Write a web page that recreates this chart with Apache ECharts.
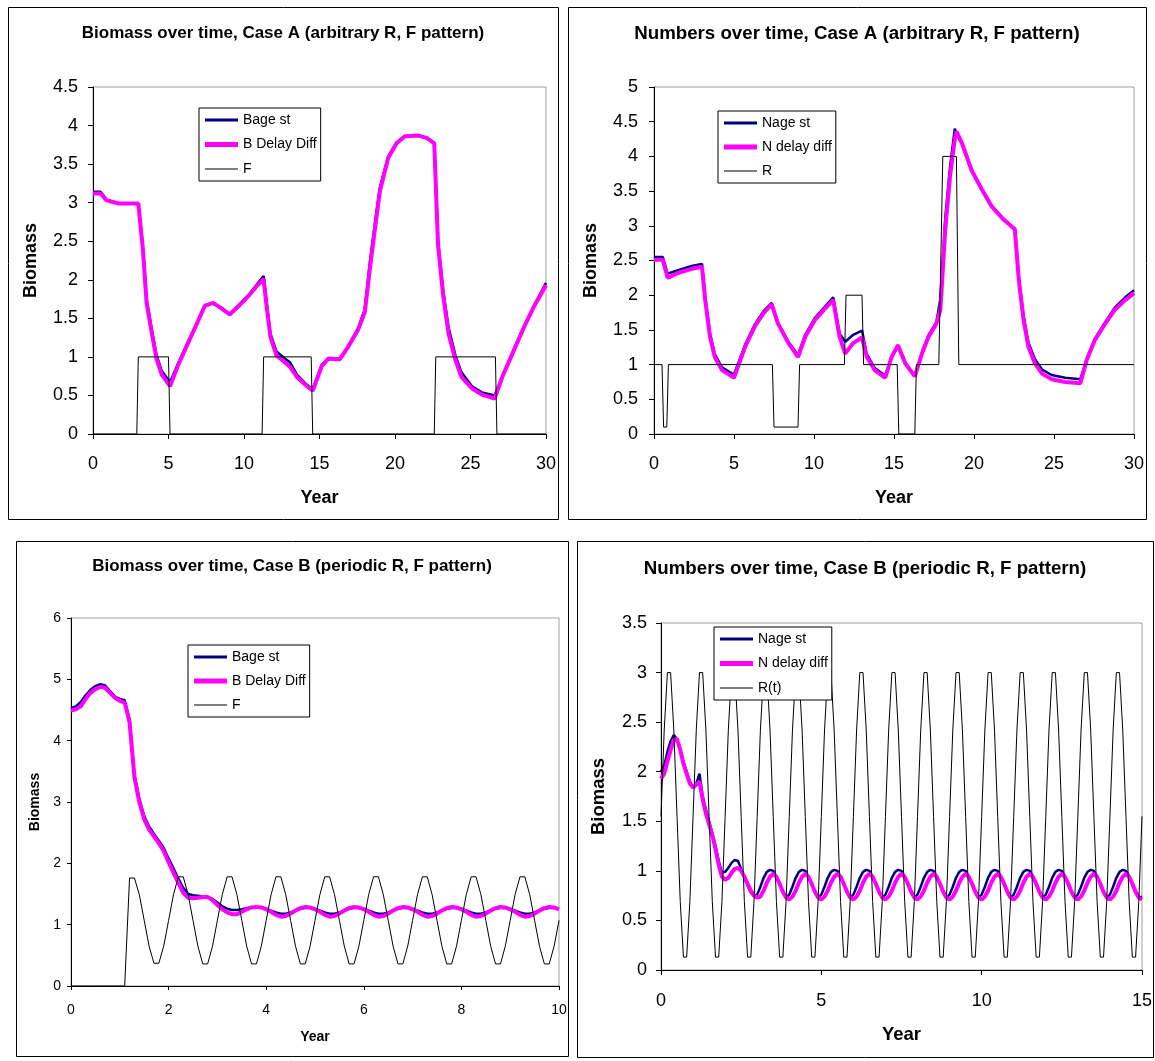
<!DOCTYPE html>
<html><head><meta charset="utf-8">
<script src="https://cdn.jsdelivr.net/npm/echarts/dist/echarts.min.js"></script>
<style>html,body{margin:0;padding:0;background:#fff}#c{width:1155px;height:1061px}</style>
</head><body><div id="c"></div>
<script>
// ---------- Panel 1: Biomass over time, Case A ----------
const years1 = [0,0.5,0.9,1.7,3.0,3.3,3.55,3.9,4.2,4.55,5.1,5.65,6.3,6.9,7.4,7.95,8.5,9.05,9.6,10.3,10.85,11.3,11.5,11.75,12.15,12.7,13.05,13.5,14.05,14.55,15.15,15.6,16.35,16.9,17.55,18.0,18.35,18.7,19.0,19.55,20.1,20.65,21.55,22.1,22.6,22.85,23.2,23.55,24.0,24.4,25.1,25.75,26.6,27.15,27.95,28.6,29.25,30];
const bAgeA = [3.14,3.14,3.04,2.99,2.99,2.45,1.75,1.35,1.03,0.82,0.67,0.92,1.2,1.45,1.67,1.70,1.64,1.55,1.66,1.8,1.94,2.05,1.7,1.3,1.07,0.98,0.93,0.77,0.66,0.58,0.9,0.97,0.97,1.14,1.37,1.62,2.25,2.78,3.2,3.6,3.78,3.86,3.87,3.84,3.77,2.5,1.85,1.38,1.02,0.8,0.62,0.54,0.5,0.77,1.13,1.42,1.68,1.96];
const bDelayA = [3.12,3.12,3.03,2.99,2.99,2.4,1.7,1.3,0.98,0.77,0.62,0.9,1.18,1.44,1.66,1.70,1.63,1.55,1.65,1.79,1.92,2.01,1.65,1.26,1.02,0.93,0.87,0.74,0.64,0.56,0.88,0.98,0.97,1.13,1.35,1.58,2.17,2.7,3.15,3.58,3.77,3.86,3.87,3.84,3.77,2.45,1.78,1.3,0.96,0.74,0.59,0.51,0.46,0.76,1.12,1.41,1.67,1.93];
const fYearsA = [0,2.9,3.0,5.0,5.1,11.2,11.3,14.45,14.55,22.6,22.7,26.65,26.75,30];
const fValsA  = [0,0,1,1,0,0,1,1,0,0,1,1,0,0];

// ---------- Panel 2: Numbers over time, Case A ----------
const years2 = [0,0.55,0.85,1.5,2.35,3.0,3.2,3.5,3.8,4.25,4.75,5.0,5.7,6.3,6.85,7.35,7.75,8.4,9.0,9.45,10.05,10.7,11.2,11.6,11.95,12.45,13.0,13.3,13.8,14.45,14.85,15.25,15.7,16.3,16.75,17.15,17.65,17.9,18.2,18.5,18.8,18.9,19.25,19.85,20.5,21.1,21.85,22.55,22.8,23.1,23.4,23.8,24.25,24.85,25.7,26.65,27.05,27.55,28.2,28.8,29.45,30];
const nAgeA = [2.55,2.55,2.31,2.36,2.42,2.45,1.98,1.45,1.15,0.96,0.89,0.86,1.29,1.58,1.77,1.89,1.60,1.33,1.14,1.43,1.67,1.84,1.97,1.45,1.33,1.43,1.49,1.15,0.95,0.84,1.12,1.28,1.03,0.83,1.17,1.42,1.61,1.95,3.10,3.85,4.40,4.32,4.18,3.80,3.53,3.29,3.10,2.96,2.26,1.70,1.32,1.08,0.93,0.85,0.81,0.79,1.09,1.37,1.61,1.82,1.97,2.07];
const nDelayA = [2.51,2.51,2.25,2.32,2.38,2.41,1.93,1.40,1.11,0.92,0.85,0.81,1.26,1.55,1.74,1.87,1.59,1.31,1.11,1.40,1.64,1.81,1.93,1.40,1.16,1.31,1.39,1.11,0.92,0.81,1.11,1.28,1.02,0.83,1.16,1.40,1.59,1.79,2.94,3.71,4.25,4.36,4.19,3.80,3.52,3.28,3.09,2.95,2.22,1.64,1.26,1.02,0.87,0.79,0.75,0.73,1.07,1.35,1.59,1.79,1.93,2.03];
const rYearsA = [0,0.5,0.6,0.8,0.9,7.4,7.5,9.0,9.1,11.9,12.0,13.0,13.1,15.2,15.3,16.3,16.4,17.8,18.05,18.9,19.05,30];
const rValsA  = [1,1,0.1,0.1,1,1,0.1,0.1,1,1,2,2,1,1,0,0,1,1,4,4,1,1];

// ---------- Panel 3: Biomass over time, Case B ----------
const years3 = [
0,0.1,0.2,0.3,0.4,0.5,0.6,0.7,0.8,0.9,
1,1.1,1.2,1.3,1.4,1.5,1.6,1.7,1.8,1.9,
2,2.1,2.2,2.3,2.4,2.5,2.6,2.7,2.8,2.9,
3,3.1,3.2,3.3,3.4,3.5,3.6,3.7,3.8,3.9,
4,4.1,4.2,4.3,4.4,4.5,4.6,4.7,4.8,4.9,
5,5.1,5.2,5.3,5.4,5.5,5.6,5.7,5.8,5.9,
6,6.1,6.2,6.3,6.4,6.5,6.6,6.7,6.8,6.9,
7,7.1,7.2,7.3,7.4,7.5,7.6,7.7,7.8,7.9,
8,8.1,8.2,8.3,8.4,8.5,8.6,8.7,8.8,8.9,
9,9.1,9.2,9.3,9.4,9.5,9.6,9.7,9.8,9.9,
10];
const bAgeB = [
4.53,4.56,4.63,4.74,4.83,4.89,4.92,4.90,4.81,4.72,
4.68,4.66,4.35,3.45,3.05,2.77,2.60,2.48,2.37,2.25,
2.08,1.92,1.75,1.60,1.50,1.48,1.47,1.46,1.45,1.42,
1.36,1.30,1.26,1.24,1.24,1.25,1.27,1.28,1.28,1.28,
1.26,1.23,1.20,1.18,1.18,1.20,1.23,1.26,1.27,1.27,
1.26,1.23,1.20,1.18,1.18,1.20,1.23,1.26,1.27,1.27,
1.26,1.23,1.20,1.18,1.18,1.20,1.23,1.26,1.27,1.27,
1.26,1.23,1.20,1.18,1.18,1.20,1.23,1.26,1.27,1.27,
1.26,1.23,1.20,1.18,1.18,1.20,1.23,1.26,1.27,1.27,
1.26,1.23,1.20,1.18,1.18,1.20,1.23,1.26,1.27,1.27,
1.26];
const bDelayB = [
4.49,4.51,4.56,4.68,4.78,4.84,4.88,4.86,4.78,4.70,
4.65,4.62,4.30,3.40,3.00,2.72,2.55,2.44,2.33,2.20,
2.02,1.85,1.68,1.52,1.44,1.43,1.44,1.45,1.45,1.40,
1.32,1.25,1.20,1.17,1.17,1.21,1.25,1.28,1.29,1.28,
1.25,1.21,1.16,1.13,1.14,1.18,1.23,1.27,1.29,1.28,
1.25,1.21,1.16,1.13,1.14,1.18,1.23,1.27,1.29,1.28,
1.25,1.21,1.16,1.13,1.14,1.18,1.23,1.27,1.29,1.28,
1.25,1.21,1.16,1.13,1.14,1.18,1.23,1.27,1.29,1.28,
1.25,1.21,1.16,1.13,1.14,1.18,1.23,1.27,1.29,1.28,
1.25,1.21,1.16,1.13,1.14,1.18,1.23,1.27,1.29,1.28,
1.25];
const fB = [
0,0,0,0,0,0,0,0,0,0,
0,0,1.76,1.76,1.49,1.07,0.65,0.37,0.37,0.65,
1.07,1.49,1.78,1.78,1.49,1.07,0.65,0.36,0.36,0.65,
1.07,1.49,1.78,1.78,1.49,1.07,0.65,0.36,0.36,0.65,
1.07,1.49,1.78,1.78,1.49,1.07,0.65,0.36,0.36,0.65,
1.07,1.49,1.78,1.78,1.49,1.07,0.65,0.36,0.36,0.65,
1.07,1.49,1.78,1.78,1.49,1.07,0.65,0.36,0.36,0.65,
1.07,1.49,1.78,1.78,1.49,1.07,0.65,0.36,0.36,0.65,
1.07,1.49,1.78,1.78,1.49,1.07,0.65,0.36,0.36,0.65,
1.07,1.49,1.78,1.78,1.49,1.07,0.65,0.36,0.36,0.65,
1.07];

// ---------- Panel 4: Numbers over time, Case B ----------
const years4 = [
0,0.1,0.2,0.3,0.4,0.5,0.6,0.7,0.8,0.9,
1,1.1,1.2,1.3,1.4,1.5,1.6,1.7,1.8,1.9,
2,2.1,2.2,2.3,2.4,2.5,2.6,2.7,2.8,2.9,
3,3.1,3.2,3.3,3.4,3.5,3.6,3.7,3.8,3.9,
4,4.1,4.2,4.3,4.4,4.5,4.6,4.7,4.8,4.9,
5,5.1,5.2,5.3,5.4,5.5,5.6,5.7,5.8,5.9,
6,6.1,6.2,6.3,6.4,6.5,6.6,6.7,6.8,6.9,
7,7.1,7.2,7.3,7.4,7.5,7.6,7.7,7.8,7.9,
8,8.1,8.2,8.3,8.4,8.5,8.6,8.7,8.8,8.9,
9,9.1,9.2,9.3,9.4,9.5,9.6,9.7,9.8,9.9,
10,10.1,10.2,10.3,10.4,10.5,10.6,10.7,10.8,10.9,
11,11.1,11.2,11.3,11.4,11.5,11.6,11.7,11.8,11.9,
12,12.1,12.2,12.3,12.4,12.5,12.6,12.7,12.8,12.9,
13,13.1,13.2,13.3,13.4,13.5,13.6,13.7,13.8,13.9,
14,14.1,14.2,14.3,14.4,14.5,14.6,14.7,14.8,14.9,
15];
const nAgeB = [
2.00,2.06,2.20,2.31,2.37,2.33,2.22,2.10,2.00,1.90,
1.84,1.88,1.98,1.75,1.62,1.50,1.38,1.25,1.10,0.98,
0.99,1.03,1.08,1.11,1.10,1.02,0.93,0.85,0.78,0.75,
0.76,0.84,0.93,0.99,1.01,1.00,0.94,0.86,0.79,0.73,
0.76,0.84,0.93,0.99,1.01,1.00,0.94,0.86,0.79,0.73,
0.76,0.84,0.93,0.99,1.01,1.00,0.94,0.86,0.79,0.73,
0.76,0.84,0.93,0.99,1.01,1.00,0.94,0.86,0.79,0.73,
0.76,0.84,0.93,0.99,1.01,1.00,0.94,0.86,0.79,0.73,
0.76,0.84,0.93,0.99,1.01,1.00,0.94,0.86,0.79,0.73,
0.76,0.84,0.93,0.99,1.01,1.00,0.94,0.86,0.79,0.73,
0.76,0.84,0.93,0.99,1.01,1.00,0.94,0.86,0.79,0.73,
0.76,0.84,0.93,0.99,1.01,1.00,0.94,0.86,0.79,0.73,
0.76,0.84,0.93,0.99,1.01,1.00,0.94,0.86,0.79,0.73,
0.76,0.84,0.93,0.99,1.01,1.00,0.94,0.86,0.79,0.73,
0.76,0.84,0.93,0.99,1.01,1.00,0.94,0.86,0.79,0.73,
0.74];
const nDelayB = [
1.93,1.98,2.10,2.22,2.32,2.33,2.22,2.08,1.98,1.88,
1.84,1.87,1.90,1.72,1.58,1.47,1.36,1.22,1.06,0.94,
0.91,0.93,0.98,1.02,1.03,1.00,0.94,0.87,0.80,0.75,
0.73,0.74,0.80,0.88,0.94,0.97,0.94,0.87,0.79,0.73,
0.71,0.74,0.80,0.88,0.94,0.97,0.94,0.87,0.79,0.73,
0.71,0.74,0.80,0.88,0.94,0.97,0.94,0.87,0.79,0.73,
0.71,0.74,0.80,0.88,0.94,0.97,0.94,0.87,0.79,0.73,
0.71,0.74,0.80,0.88,0.94,0.97,0.94,0.87,0.79,0.73,
0.71,0.74,0.80,0.88,0.94,0.97,0.94,0.87,0.79,0.73,
0.71,0.74,0.80,0.88,0.94,0.97,0.94,0.87,0.79,0.73,
0.71,0.74,0.80,0.88,0.94,0.97,0.94,0.87,0.79,0.73,
0.71,0.74,0.80,0.88,0.94,0.97,0.94,0.87,0.79,0.73,
0.71,0.74,0.80,0.88,0.94,0.97,0.94,0.87,0.79,0.73,
0.71,0.74,0.80,0.88,0.94,0.97,0.94,0.87,0.79,0.73,
0.71,0.74,0.80,0.88,0.94,0.97,0.94,0.87,0.79,0.73,
0.71];
const rB = [
1.55,2.42,3.0,3.0,2.42,1.55,0.69,0.13,0.13,0.69,
1.55,2.42,3.0,3.0,2.42,1.55,0.69,0.13,0.13,0.69,
1.55,2.42,3.0,3.0,2.42,1.55,0.69,0.13,0.13,0.69,
1.55,2.42,3.0,3.0,2.42,1.55,0.69,0.13,0.13,0.69,
1.55,2.42,3.0,3.0,2.42,1.55,0.69,0.13,0.13,0.69,
1.55,2.42,3.0,3.0,2.42,1.55,0.69,0.13,0.13,0.69,
1.55,2.42,3.0,3.0,2.42,1.55,0.69,0.13,0.13,0.69,
1.55,2.42,3.0,3.0,2.42,1.55,0.69,0.13,0.13,0.69,
1.55,2.42,3.0,3.0,2.42,1.55,0.69,0.13,0.13,0.69,
1.55,2.42,3.0,3.0,2.42,1.55,0.69,0.13,0.13,0.69,
1.55,2.42,3.0,3.0,2.42,1.55,0.69,0.13,0.13,0.69,
1.55,2.42,3.0,3.0,2.42,1.55,0.69,0.13,0.13,0.69,
1.55,2.42,3.0,3.0,2.42,1.55,0.69,0.13,0.13,0.69,
1.55,2.42,3.0,3.0,2.42,1.55,0.69,0.13,0.13,0.69,
1.55,2.42,3.0,3.0,2.42,1.55,0.69,0.13,0.13,0.69,
1.55];

// ---------- Text ----------
const titles = [
  'Biomass over time, Case A (arbitrary R, F pattern)',
  'Numbers over time, Case A (arbitrary R, F pattern)',
  'Biomass over time, Case B (periodic R, F pattern)',
  'Numbers over time, Case B (periodic R, F pattern)'
];
const yName = 'Biomass', xName = 'Year';

// ---------- Build ----------
const FONT = '"Liberation Sans", Arial, sans-serif';
const NAVY = '#000080', MAG = '#FF00FF', BLK = '#000000';
const zip = (xs, ys) => xs.map((x, i) => [x, ys[i]]);

const layout = [
  {grid:{left:93, top:87, width:453, height:347}, frame:[8,7,550,512], title:{x:283, y:24.5, size:17},
   x:{max:30, interval:5}, y:{max:4.5, interval:0.5}, tick:18, ylm:15, xlm:21, nameSize:18, yng:53, xng:55.5, tlen:5,
   legend:{left:199, top:108, gap:10.5}},
  {grid:{left:654, top:87, width:480, height:347}, frame:[568,7,578,512], title:{x:857, y:24.5, size:18.7},
   x:{max:30, interval:5}, y:{max:5, interval:0.5}, tick:18, ylm:16, xlm:21, nameSize:18, yng:54, xng:55, tlen:5,
   legend:{left:718, top:111, gap:10}},
  {grid:{left:71, top:618, width:488, height:368}, frame:[16,541,552,515], title:{x:292, y:558, size:17},
   x:{max:10, interval:2}, y:{max:6, interval:1}, tick:14, ylm:10, xlm:17, nameSize:14, yng:29, xng:44, tlen:4,
   legend:{left:188, top:645, gap:10}},
  {grid:{left:661, top:623, width:481, height:347}, frame:[577,541,576,516], title:{x:865, y:559.5, size:18.7},
   x:{max:15, interval:5}, y:{max:3.5, interval:0.5}, tick:18, ylm:14, xlm:22, nameSize:18.5, yng:53, xng:55, tlen:5,
   legend:{left:714, top:627, gap:10.5}}
];
const legendNames = [
  ['Bage st','B Delay Diff','F'],
  ['Nage st','N delay diff','R'],
  ['Bage st','B Delay Diff','F'],
  ['Nage st','N delay diff','R(t)']
];
const seriesDefs = [
  [[years1,bAgeA],[years1,bDelayA],[fYearsA,fValsA]],
  [[years2,nAgeA],[years2,nDelayA],[rYearsA,rValsA]],
  [[years3,bAgeB],[years3,bDelayB],[years3,fB]],
  [[years4,nAgeB],[years4,nDelayB],[years4,rB]]
];
const styles = [{c:NAVY,w:2.5,icon:'path://M0,0h33v3h-33z'},{c:MAG,w:4,icon:'path://M0,0h33v5h-33z'},{c:BLK,w:1,icon:'path://M0,0h33v1h-33z'}];

const option = {animation:false, backgroundColor:'#fff', textStyle:{fontFamily:FONT},
  title:[], grid:[], xAxis:[], yAxis:[], legend:[], series:[], graphic:[]};

layout.forEach((L, p) => {
  option.grid.push(Object.assign({show:true, borderColor:'#a0a0a0', borderWidth:1, backgroundColor:'#fff'}, L.grid));
  option.title.push({text:titles[p], left:L.title.x, top:L.title.y, textAlign:'center', padding:0,
    textStyle:{fontFamily:FONT, fontWeight:'bold', fontSize:L.title.size, color:'#000'}});
  option.xAxis.push({type:'value', gridIndex:p, min:0, max:L.x.max, interval:L.x.interval,
    name:xName, nameLocation:'middle', nameGap:L.xng,
    nameTextStyle:{fontFamily:FONT, fontWeight:'bold', fontSize:L.nameSize, color:'#000'},
    axisLine:{show:true, onZero:false, lineStyle:{color:'#000', width:1}},
    axisTick:{show:true, inside:false, length:L.tlen, lineStyle:{color:'#000'}},
    axisLabel:{margin:L.xlm, fontFamily:FONT, fontSize:L.tick, color:'#000', showMaxLabel:true, showMinLabel:true},
    splitLine:{show:false}});
  option.yAxis.push({type:'value', gridIndex:p, min:0, max:L.y.max, interval:L.y.interval,
    name:yName, nameLocation:'middle', nameGap:L.yng, nameRotate:90,
    nameTextStyle:{fontFamily:FONT, fontWeight:'bold', fontSize:L.nameSize, color:'#000'},
    axisLine:{show:true, onZero:false, lineStyle:{color:'#000', width:1}},
    axisTick:{show:true, inside:false, length:L.tlen, lineStyle:{color:'#000'}},
    axisLabel:{margin:L.ylm, fontFamily:FONT, fontSize:L.tick, color:'#000'},
    splitLine:{show:false}});
  option.legend.push({orient:'vertical', left:L.legend.left, top:L.legend.top, z:20,
    itemWidth:33, itemHeight:14, itemGap:L.legend.gap, padding:[5,4,5,6],
    borderColor:'#000', borderWidth:1, backgroundColor:'#fff', selectedMode:false,
    textStyle:{fontFamily:FONT, fontSize:14, color:'#000', lineHeight:14},
    data: legendNames[p].map((n, k) => ({name:n, icon:styles[k].icon, itemStyle:{color:styles[k].c}}))});
  seriesDefs[p].forEach((d, k) => {
    option.series.push({type:'line', name:legendNames[p][k], xAxisIndex:p, yAxisIndex:p,
      data: zip(d[0], d[1]), symbol:'none', showSymbol:false, smooth:false,
      color:styles[k].c, itemStyle:{color:styles[k].c},
      lineStyle:{color:styles[k].c, width:styles[k].w}, z:2+k*0.1});
  });
  const f = L.frame;
  option.graphic.push({type:'rect', silent:true, z:100,
    shape:{x:f[0]+0.5, y:f[1]+0.5, width:f[2], height:f[3]},
    style:{fill:'none', stroke:'#000', lineWidth:1}});
});

const chart = echarts.init(document.getElementById('c'), null, {renderer:'canvas'});
chart.setOption(option);
</script></body></html>
